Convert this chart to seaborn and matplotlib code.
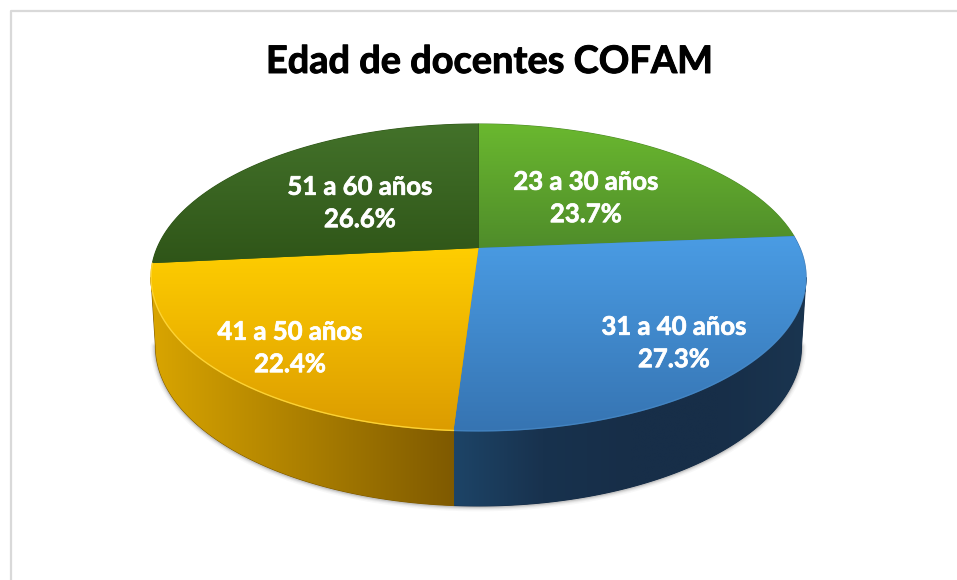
import numpy as np
import matplotlib
matplotlib.use("Agg")
import matplotlib.pyplot as plt
import matplotlib.patheffects as pe
from matplotlib.patches import Polygon
import seaborn as sns

# Data
age_groups = ["23 a 30 años", "31 a 40 años", "41 a 50 años", "51 a 60 años"]
shares = [23.7, 27.3, 22.4, 26.6]
title = "Edad de docentes COFAM"

# Colours: gradient stops for top faces and side walls
base_colors = ["#5fa52f", "#3f87cc", "#f2bd00", "#3a6420"]
top_grad = [("#6ab82f", "#4f8c2a"), ("#4a9ce4", "#3674b2"),
            ("#ffce00", "#dc9c00"), ("#43722a", "#2f5518")]
wall_grad = [None, ("#1d4467", "#18324e", "#172e48", "#172e48", "#1a3550"),
             ("#d9a500", "#7f5a00"), None]

# Where the labels sit (pixels)
label_pos = [(586, 198), (674, 343), (290, 348), (360, 203)]

# Perspective of the pie
CX, K = 478.5, 0.192
TOP = dict(A=321.4, B=147.8, y0=248.0)
BOTTOM = dict(A=317.0, B=154.0, y0=315.4)


def project(deg, A, B, y0):
    # unit circle -> screen pixels with a little perspective
    u, v = np.cos(np.radians(deg)), np.sin(np.radians(deg))
    w = 1 + K * v
    return CX + A * u / w, y0 - B * v / w


sns.set_theme(style="white")
plt.rcParams["font.family"] = ["Lato", "DejaVu Sans"]

fig, ax = plt.subplots(figsize=(9.57, 5.8), dpi=100)
fig.subplots_adjust(0, 0, 1, 1)

# the pie gives the wedge angles, the flat patches are then replaced
palette = sns.color_palette(base_colors)
wedges, _ = ax.pie(shares, startangle=90, counterclock=False, colors=palette)
angles = [(w.theta1, w.theta2) for w in wedges]
for w in wedges:
    w.remove()

ax.set_aspect("auto")


def fill_gradient(xy, stops, horizontal, z):
    # flat underlay closes the hairline gaps between clipped images
    ax.add_patch(Polygon(xy, closed=True, fc=stops[len(stops) // 2], ec=stops[len(stops) // 2],
                         lw=0.8, zorder=z - 0.5))
    poly = Polygon(xy, closed=True, fc="none", ec="none", zorder=z)
    ax.add_patch(poly)
    cmap = sns.blend_palette(list(stops), as_cmap=True)
    ramp = np.linspace(0, 1, 256)
    ramp = ramp.reshape(1, -1) if horizontal else ramp.reshape(-1, 1)
    x0, x1, y0, y1 = xy[:, 0].min(), xy[:, 0].max(), xy[:, 1].min(), xy[:, 1].max()
    im = ax.imshow(ramp, cmap=cmap, extent=(x0, x1, y1, y0), origin="upper",
                   aspect="auto", zorder=z, interpolation="bilinear")
    im.set_clip_path(poly)


# soft shadow under the wall
t = np.linspace(-169, -11, 300)
sx, sy = project(t, **BOTTOM)
for lw, a in zip([7, 5, 3.5, 2], [0.04, 0.06, 0.09, 0.14]):
    ax.plot(sx, sy + 0.5, color="#404040", alpha=a, lw=lw, zorder=1)

# side walls
for (t1, t2), g in zip(angles, wall_grad):
    if g is None:
        continue
    lo, hi = max(t1, -169), min(t2, -11)
    t = np.linspace(lo, hi, 200)
    tx, ty = project(t, **TOP)
    bx, by = project(t[::-1], **BOTTOM)
    xy = np.column_stack([np.r_[tx, bx], np.r_[ty, by]])
    fill_gradient(xy, g, True, 2)

# top faces
for (t1, t2), g in zip(angles, top_grad):
    t = np.linspace(t1, t2, 300)
    tx, ty = project(t, **TOP)
    xy = np.column_stack([np.r_[CX, tx], np.r_[TOP["y0"], ty]])
    fill_gradient(xy, g, False, 4)

# light rim on the front edge
for (t1, t2), c, a in zip(angles[1:3], ["#4f93d0", "#ffd83a"], [0.5, 0.9]):
    t = np.linspace(max(t1, -180), min(t2, 0), 200)
    tx, ty = project(t, **TOP)
    ax.plot(tx, ty, color=c, lw=1.0, alpha=a, zorder=5)

# labels
for name, val, (lx, ly) in zip(age_groups, shares, label_pos):
    ax.text(lx, ly, f"{name}\n{val}%", color="white", fontsize=18.5,
            fontweight="bold", ha="center", va="center", linespacing=1.42, zorder=6,
            path_effects=[pe.withStroke(linewidth=0.5, foreground="white")])

ax.text(489, 62, title, color="black", fontsize=27.3, fontweight="bold",
        ha="center", va="center",
        path_effects=[pe.withStroke(linewidth=0.7, foreground="black")])

# chart frame, cut by the image edge on the right and bottom
ax.plot([10.5, 10.5, 957], [580, 11, 11], color="#d9d9d9", lw=1.6, zorder=0)

ax.set_xlim(0, 957)
ax.set_ylim(580, 0)
ax.axis("off")

fig.savefig("out.png", dpi=100)
